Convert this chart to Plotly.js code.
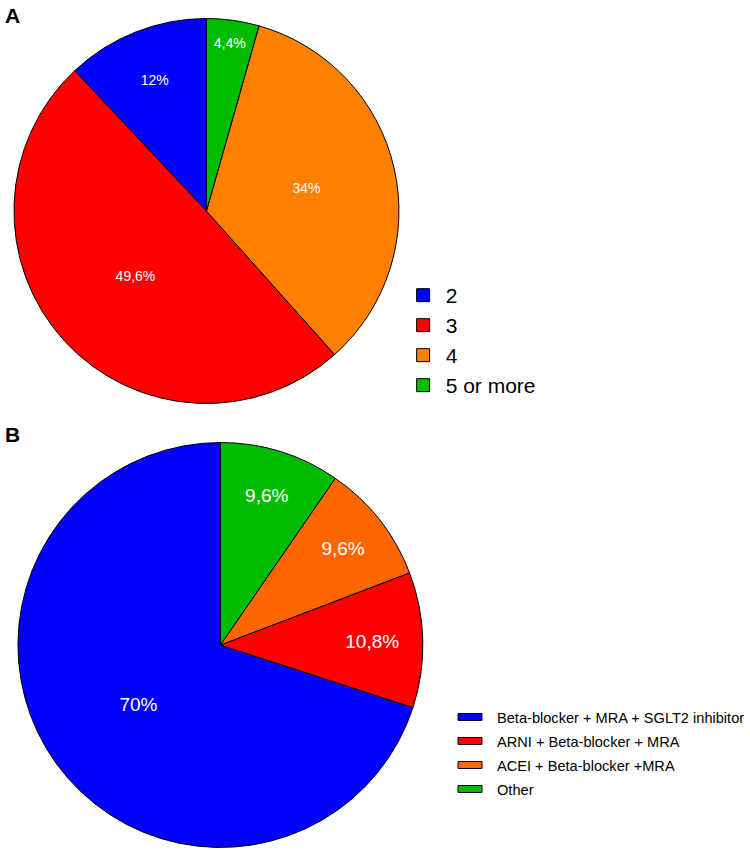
<!DOCTYPE html>
<html>
<head>
<meta charset="utf-8">
<script src="https://cdn.plot.ly/plotly-3.0.1.min.js"></script>
<style>
  html, body { margin: 0; padding: 0; background: #fff; }
  #chart { width: 750px; height: 850px; }
</style>
</head>
<body>
<div id="chart"></div>
<script>
// Panel A: number of drug classes prescribed
const countLabels = ['2', '3', '4', '5 or more'];
const countShares = [12, 49.6, 34, 4.4];
const countColors = ['#0000ff', '#ff0000', '#ff8000', '#00bb00'];

// Panel B: most common drug combinations
const comboLabels = [
  'Beta-blocker + MRA + SGLT2 inhibitor',
  'ARNI + Beta-blocker + MRA',
  'ACEI + Beta-blocker +MRA',
  'Other'
];
const comboShares = [70, 10.8, 9.6, 9.6];
const comboColors = ['#0000ff', '#ff0000', '#ff6600', '#00bb00'];

const fmt = v => String(v).replace('.', ',') + '%';
const FONT = 'Liberation Sans, Arial, sans-serif';

// Plotly's counterclockwise layout ends the first slice at 12 o'clock;
// rotate back by that slice so the first slice starts there instead.
const firstSliceAngle = vals => -360 * vals[0] / vals.reduce((a, b) => a + b, 0);

const traces = [
  {
    type: 'pie',
    labels: countLabels,
    values: countShares,
    text: countShares.map(fmt),
    textinfo: 'text',
    textposition: 'inside',
    insidetextorientation: 'horizontal',
    sort: false,
    direction: 'counterclockwise',
    rotation: firstSliceAngle(countShares),
    marker: { colors: countColors, line: { color: '#000', width: 1 } },
    textfont: { family: FONT, size: 14, color: '#fff' },
    domain: { x: [14 / 750, 400 / 750], y: [1 - 404 / 850, 1 - 18 / 850] },
    legend: 'legend',
    hoverinfo: 'label+text'
  },
  {
    type: 'pie',
    labels: comboLabels,
    values: comboShares,
    text: comboShares.map(fmt),
    textinfo: 'text',
    textposition: 'inside',
    insidetextorientation: 'horizontal',
    sort: false,
    direction: 'counterclockwise',
    rotation: firstSliceAngle(comboShares),
    marker: { colors: comboColors, line: { color: '#000', width: 1 } },
    textfont: { family: FONT, size: 19, color: '#fff' },
    domain: { x: [18 / 750, 424 / 750], y: [1 - 848 / 850, 1 - 442 / 850] },
    legend: 'legend2',
    hoverinfo: 'label+text'
  }
];

const layout = {
  width: 750,
  height: 850,
  margin: { l: 0, r: 0, t: 0, b: 0 },
  paper_bgcolor: '#fff',
  font: { family: FONT, color: '#000' },
  showlegend: true,
  legend: {
    x: 0.5423, y: 1 - 275 / 850, xanchor: 'left', yanchor: 'top',
    font: { family: FONT, size: 21, color: '#000' },
    bgcolor: 'rgba(0,0,0,0)', itemclick: false, itemdoubleclick: false
  },
  legend2: {
    x: 0.611, y: 1 - 701 / 850, xanchor: 'left', yanchor: 'top',
    font: { family: FONT, size: 14.6, color: '#000' },
    bgcolor: 'rgba(0,0,0,0)', itemclick: false, itemdoubleclick: false
  },
  annotations: [
    { text: '<b>A</b>', xref: 'paper', yref: 'paper', x: 0.004, y: 1 - 2 / 850,
      xanchor: 'left', yanchor: 'top', showarrow: false,
      font: { family: FONT, size: 21, color: '#000' } },
    { text: '<b>B</b>', xref: 'paper', yref: 'paper', x: 0.004, y: 1 - 421 / 850,
      xanchor: 'left', yanchor: 'top', showarrow: false,
      font: { family: FONT, size: 21, color: '#000' } }
  ]
};

// Spread legend rows to a fixed pitch
function spaceRows(gd, cls, pitch) {
  const rows = gd.querySelectorAll('.' + cls + ' .traces');
  if (!rows.length) return;
  const m = /translate\(([-\d.]+),\s*([-\d.]+)\)/.exec(rows[0].getAttribute('transform') || '');
  if (!m) return;
  const x0 = +m[1], y0 = +m[2];
  rows.forEach((r, i) => r.setAttribute('transform', 'translate(' + x0 + ',' + (y0 + i * pitch) + ')'));
}

Plotly.newPlot('chart', traces, layout, { displayModeBar: false, staticPlot: true }).then(gd => {
  // Panel A legend: square swatches set a little apart from the text
  gd.querySelectorAll('.legend .legendpoints path').forEach(p => {
    p.setAttribute('d', 'M4,6.5H-9V-6.5H4Z');
  });
  // Panel B legend uses flat bar-shaped swatches
  gd.querySelectorAll('.legend2 .legendpoints path').forEach(p => {
    p.setAttribute('d', 'M5,3.5H-19V-3.5H5Z');
  });
  spaceRows(gd, 'legend', 30);
  spaceRows(gd, 'legend2', 24);
});
</script>
</body>
</html>
